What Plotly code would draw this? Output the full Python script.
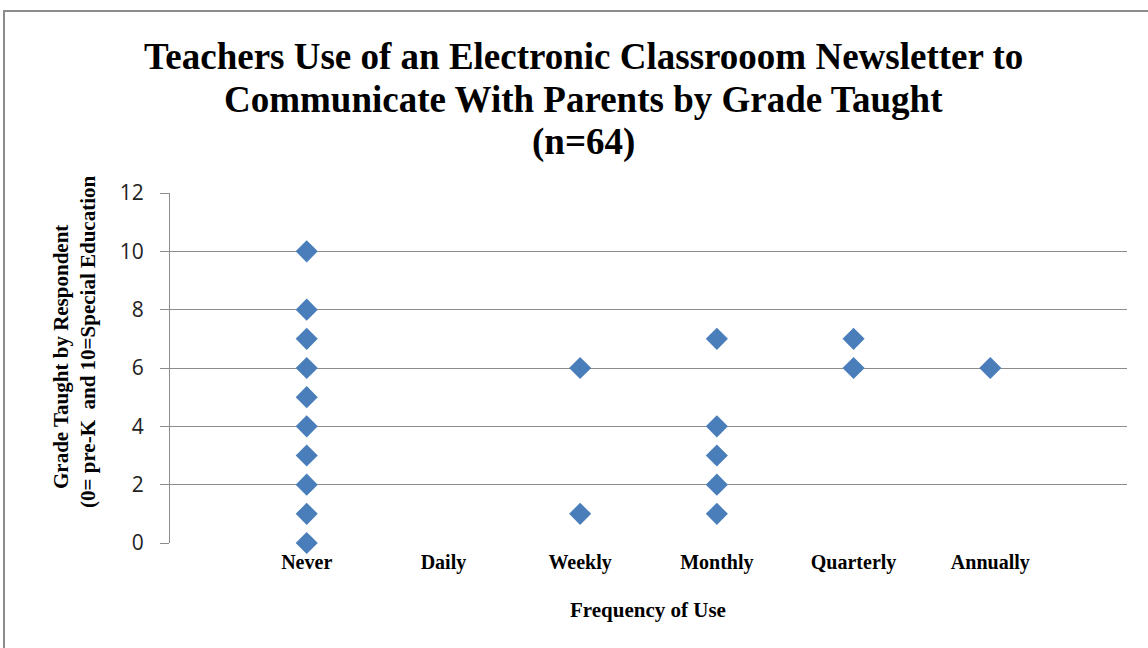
import plotly.graph_objects as go

categories = ["Never", "Daily", "Weekly", "Monthly", "Quarterly", "Annually"]
cat_pos = [1, 2, 3, 4, 5, 6]

never_vals = [0, 1, 2, 3, 4, 5, 6, 7, 8, 10]
daily_vals = []
weekly_vals = [1, 6]
monthly_vals = [1, 2, 3, 4, 7]
quarterly_vals = [6, 7]
annually_vals = [6]

title_lines = ["Teachers Use of an Electronic Classrooom Newsletter to",
               "Communicate With Parents by Grade Taught",
               "(n=64)"]
ytitle_lines = ["Grade Taught by Respondent", "(0= pre-K  and 10=Special Education"]

series = [never_vals, daily_vals, weekly_vals, monthly_vals, quarterly_vals, annually_vals]
xs, ys = [], []
for pos, vals in zip(cat_pos, series):
    for v in vals:
        xs.append(pos)
        ys.append(v)

fig = go.Figure()
fig.add_trace(go.Scatter(
    x=xs, y=ys, mode="markers",
    marker=dict(symbol="diamond", size=17, color="#4A7EBB", line=dict(width=0)),
    cliponaxis=False, showlegend=False,
))

serif = "Liberation Serif"
# plot area: left 170, right 1127, top 193, bottom 543 (px)
L, T, W, H = 170, 193, 957, 350


def px(x):
    return (x - L) / W


def py(y):
    return (T + H - y) / H


annotations = []
for line, yc in zip(title_lines, [56, 99, 142]):
    annotations.append(dict(text=line, xref="paper", yref="paper", x=px(583), y=py(yc),
                            xanchor="center", yanchor="middle", showarrow=False,
                            font=dict(family=serif, size=37, color="black", weight="bold")))
for line, xc, yc in zip(ytitle_lines, [61, 88], [357, 342]):
    annotations.append(dict(text=line, xref="paper", yref="paper", x=px(xc), y=py(yc),
                            xanchor="center", yanchor="middle", textangle=-90, showarrow=False,
                            font=dict(family=serif, size=21, color="black", weight="bold")))
annotations.append(dict(text="Frequency of Use", xref="paper", yref="paper", x=px(648), y=py(610),
                        xanchor="center", yanchor="middle", showarrow=False,
                        font=dict(family=serif, size=21, color="black", weight="bold")))

fig.update_layout(
    width=1148, height=648,
    margin=dict(l=L, r=1148 - L - W, t=T, b=648 - T - H),
    paper_bgcolor="white", plot_bgcolor="white",
    xaxis=dict(
        range=[0, 7], tickvals=cat_pos, ticktext=categories,
        showgrid=False, zeroline=False, showline=False, ticks="",
        tickfont=dict(family=serif, size=20, color="black", weight="bold"),
        ticklabelstandoff=5,
    ),
    yaxis=dict(
        range=[0, 12], tickvals=[0, 2, 4, 6, 8, 10, 12],
        showgrid=True, gridcolor="#8C8C8C", gridwidth=1,
        zeroline=False, showline=True, linecolor="#8C8C8C", linewidth=1,
        ticks="outside", ticklen=9, tickcolor="#8C8C8C",
        tickfont=dict(family="Open Sans", size=21, color="#222222"),
        ticklabelstandoff=12,
    ),
    shapes=[dict(type="rect", xref="paper", yref="paper", x0=px(4), x1=px(1160), y0=py(660), y1=py(11),
                 line=dict(color="#8C8C8C", width=2), fillcolor="rgba(0,0,0,0)", layer="below")],
    annotations=annotations,
)

fig.write_html("out.html")
